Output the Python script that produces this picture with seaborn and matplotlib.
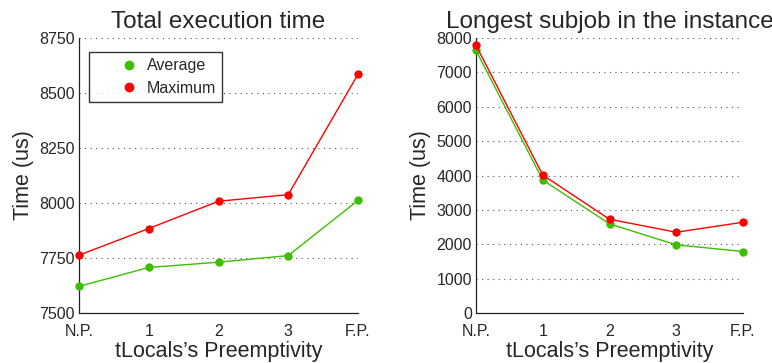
import numpy as np
import pandas as pd
import matplotlib
matplotlib.use("Agg")
import matplotlib.pyplot as plt
import seaborn as sns
from matplotlib.lines import Line2D
from matplotlib.legend_handler import HandlerLine2D

# data
levels = ["N.P.", "1", "2", "3", "F.P."]
total_avg = [7621, 7707, 7731, 7761, 8012]
total_max = [7763, 7884, 8008, 8038, 8585]
sub_avg = [7640, 3868, 2592, 1983, 1789]
sub_max = [7785, 4014, 2727, 2350, 2640]

green = "#3cbf00"
red = "#ff0000"

sns.set_style("white")
plt.rcParams["font.family"] = ["Liberation Sans", "DejaVu Sans"]


def make_df(avg, mx):
    rows = []
    for i in range(len(levels)):
        rows.append({"pos": i, "series": "Average", "time": avg[i]})
        rows.append({"pos": i, "series": "Maximum", "time": mx[i]})
    return pd.DataFrame(rows)


# matlab puts the legend marker at the right end of the handle.
# the handler marks the middle point, so shift the (invisible) line
class RightMarker(HandlerLine2D):
    def get_xdata(self, legend, xdescent, ydescent, width, height, fontsize):
        x0 = -xdescent
        target = -xdescent + width - 0.37 * fontsize
        xdata = np.array([x0, 2 * target - x0])
        return xdata, [target]


def style_axis(ax, title, yticks):
    ax.set_title(title, fontsize=17.5, pad=7)
    ax.set_xlim(0, len(levels) - 1)
    ax.set_xticks(range(len(levels)))
    ax.set_xticklabels(levels)
    ax.set_yticks(yticks)
    ax.set_ylim(yticks[0], yticks[-1])
    ax.set_xlabel("tLocals\u2019s Preemptivity", fontsize=15.5, labelpad=1)
    ax.set_ylabel("Time (us)", fontsize=15.5, labelpad=4)
    ax.tick_params(axis="both", direction="in", length=3, labelsize=11.5,
                   color="#333333", pad=3)
    ax.tick_params(axis="x", pad=8)
    # dotted horizontal grid like matlab
    ax.yaxis.grid(True, linestyle=(0, (1, 4)), color="#555555", linewidth=0.8)
    ax.xaxis.grid(False)
    for s in ["top", "right"]:
        ax.spines[s].set_visible(False)
    for s in ["left", "bottom"]:
        ax.spines[s].set_color("#222222")
        ax.spines[s].set_linewidth(0.9)
    ax.set_axisbelow(True)


fig, axs = plt.subplots(1, 2, figsize=(7.72, 3.63), dpi=100)
pal = {"Average": green, "Maximum": red}

for ax, (avg, mx) in zip(axs, [(total_avg, total_max), (sub_avg, sub_max)]):
    df = make_df(avg, mx)
    sns.lineplot(data=df, x="pos", y="time", hue="series", palette=pal,
                 marker="o", markersize=6, markeredgewidth=0, linewidth=1,
                 legend=False, ax=ax, clip_on=False, zorder=3)

style_axis(axs[0], "Total execution time", [7500, 7750, 8000, 8250, 8500, 8750])
style_axis(axs[1], "Longest subjob in the instance",
           list(range(0, 8001, 1000)))

handles = [Line2D([], [], color=green, marker="o", linestyle="none", markersize=6),
           Line2D([], [], color=red, marker="o", linestyle="none", markersize=6)]
leg = axs[0].legend(handles, ["Average", "Maximum"], loc="upper left",
                    bbox_to_anchor=(0.036, 0.949), borderaxespad=0,
                    fontsize=11.5, frameon=True,
                    fancybox=False, edgecolor="black", handletextpad=0.7,
                    borderpad=0.4, labelspacing=0.45, handlelength=2.5,
                    handler_map={Line2D: RightMarker()})
leg.get_frame().set_linewidth(1.0)

# place axes to match reference pixel boxes
axs[0].set_position([79 / 772, 1 - 313 / 363, (358 - 79) / 772, (313 - 38) / 363])
axs[1].set_position([476 / 772, 1 - 313 / 363, (743 - 476) / 772, (313 - 38) / 363])

fig.savefig("out.png", dpi=100)
